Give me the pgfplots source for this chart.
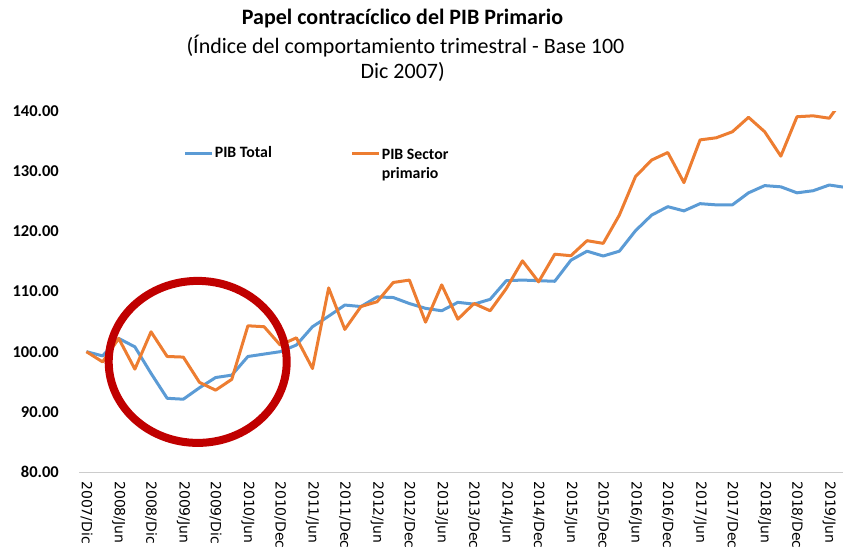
\documentclass[border=0pt]{standalone}
\usepackage{fontspec}
\setmainfont{Carlito}
\newfontfamily\xfont{DejaVu Sans}
\usepackage{pgfplots}
\usepackage{pgfplotstable}
\pgfplotsset{compat=1.18}
\definecolor{pibblue}{HTML}{5B9BD5}
\definecolor{piborange}{HTML}{ED7D31}
\definecolor{circred}{HTML}{C00000}

\pgfplotstableread{
i total primario
0 100.0 100.0
1 99.3 98.3
2 102.2 102.2
3 100.8 97.1
4 96.4 103.3
5 92.25 99.2
6 92.1 99.1
7 94.0 94.9
8 95.7 93.6
9 96.1 95.4
10 99.2 104.3
11 99.6 104.15
12 100.0 101.1
13 101.1 102.3
14 104.15 97.2
15 105.9 110.6
16 107.75 103.7
17 107.5 107.5
18 109.1 108.3
19 109.0 111.5
20 108.0 111.9
21 107.2 104.9
22 106.8 111.1
23 108.2 105.4
24 107.9 108.0
25 108.7 106.8
26 111.8 110.5
27 111.9 115.1
28 111.8 111.6
29 111.7 116.2
30 115.2 115.95
31 116.7 118.45
32 115.9 118.0
33 116.7 122.7
34 120.1 129.1
35 122.7 131.85
36 124.1 133.1
37 123.4 128.1
38 124.6 135.2
39 124.4 135.55
40 124.4 136.55
41 126.4 138.95
42 127.6 136.55
43 127.4 132.5
44 126.4 139.05
45 126.75 139.2
46 127.7 138.8
47 127.3 142.5
}\datatable

\begin{document}
\begin{tikzpicture}[x=1pt,y=1pt]
\path[use as bounding box] (0,0) rectangle (843,550);
\node[anchor=base, font=\bfseries\fontsize{22}{26}\selectfont] at (402.5,525) {Papel contracíclico del PIB Primario};
\node[anchor=base, font=\fontsize{22}{26}\selectfont] at (405.5,496.7) {(Índice del comportamiento trimestral - Base 100};
\node[anchor=base, font=\fontsize{22}{26}\selectfont] at (402.7,471.7) {Dic 2007)};
\begin{axis}[
  at={(79pt,78pt)}, anchor=south west,
  scale only axis, width=764pt, height=361pt,
  xmin=-0.46, xmax=46.85, ymin=80, ymax=140,
  axis x line*=bottom, axis y line*=left,
  x axis line style={-, draw=black!20, line width=1pt},
  y axis line style={draw=none},
  major tick length=0pt,
  ytick={80,90,...,140},
  yticklabel style={font=\bfseries\fontsize{16.5}{19}\selectfont, anchor=east, inner sep=0pt, xshift=-20pt},
  /pgf/number format/.cd, fixed, fixed zerofill, precision=2, assume math mode=true,
  /pgfplots/.cd,
  xtick={0,2,...,46},
  xticklabels={2007/Dic, 2008/Jun, 2008/Dic, 2009/Jun, 2009/Dic, 2010/Jun, 2010/Dec, 2011/Jun, 2011/Dec, 2012/Jun, 2012/Dec, 2013/Jun, 2013/Dec, 2014/Jun, 2014/Dec, 2015/Jun, 2015/Dec, 2016/Jun, 2016/Dec, 2017/Jun, 2017/Dec, 2018/Jun, 2018/Dec, 2019/Jun},
  xticklabel style={font=\xfont\fontsize{14}{16}\selectfont, rotate=-90, anchor=west, inner sep=0pt},
  xticklabel shift=9pt,
  legend columns=2,
  legend cell align=left,
  legend style={draw=none, fill=none, inner sep=0pt,
    at={(axis description cs:0.137,0.907)}, anchor=north west,
    font=\bfseries\fontsize{15.8}{19}\selectfont,
    nodes={inner sep=1pt},
    /tikz/every even column/.append style={column sep=78pt}},
  legend image code/.code={\draw[#1, line width=3pt] (0pt,0pt) -- (27pt,0pt);},
]
\addplot[pibblue, line width=3pt, line join=round] table[x=i, y=total] {\datatable};
\addlegendentry{PIB Total}
\addplot[piborange, line width=3pt, line join=round] table[x=i, y=primario] {\datatable};
\addlegendentry{\begin{tabular}[t]{@{}l@{}}PIB Sector\\primario\end{tabular}}
\coordinate (ec) at (axis cs:6.89,98.3);
\end{axis}
\draw[circred, line width=8pt] (ec) ellipse [x radius=89pt, y radius=81pt];
\end{tikzpicture}
\end{document}
